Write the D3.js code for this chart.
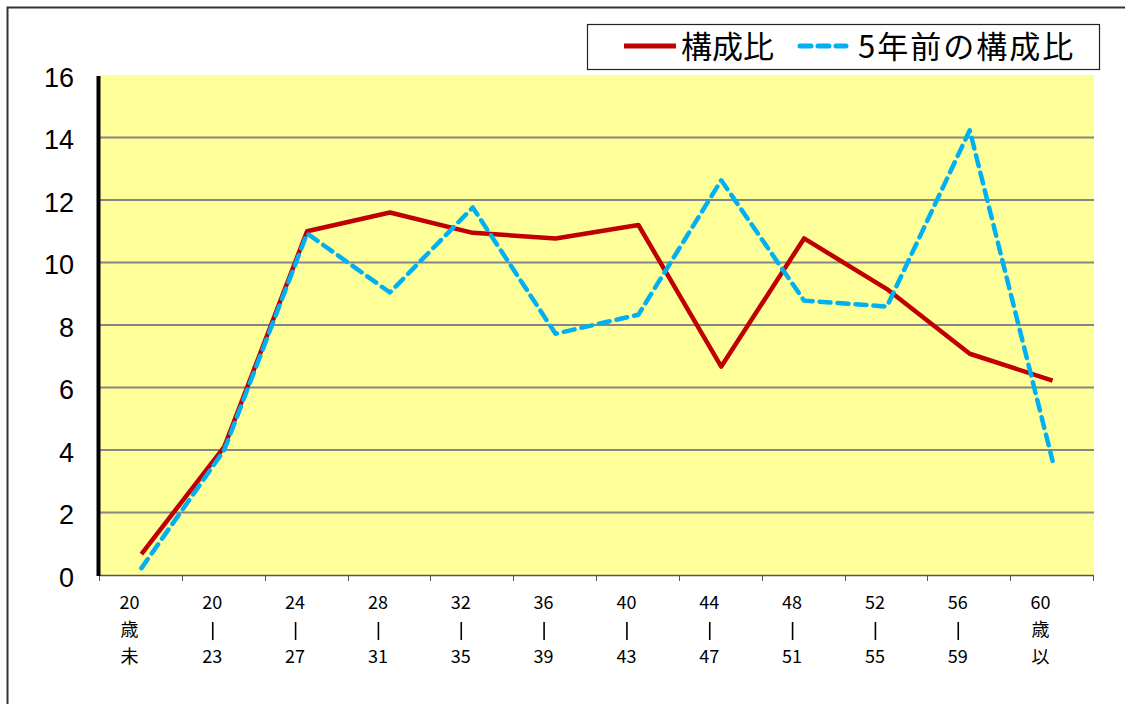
<!DOCTYPE html>
<html>
<head>
<meta charset="utf-8">
<script src="https://cdn.jsdelivr.net/npm/d3@7"></script>
<style>
  body { margin: 0; background: #fff; }
  svg { display: block; }
</style>
</head>
<body>
<div id="chart"></div>
<script>
// age groups, one entry per line of the label ('|' is drawn as a short rule)
const categories = [
  ['20', '歳', '未'], ['20', '|', '23'], ['24', '|', '27'], ['28', '|', '31'],
  ['32', '|', '35'], ['36', '|', '39'], ['40', '|', '43'], ['44', '|', '47'],
  ['48', '|', '51'], ['52', '|', '55'], ['56', '|', '59'], ['60', '歳', '以']
]
const current = [0.67, 4.1, 11.0, 11.6, 10.95, 10.77, 11.2, 6.67, 10.77, 9.15, 7.08, 6.22]
const fiveYearsAgo = [0.22, 4.0, 10.93, 9.04, 11.76, 7.72, 8.33, 12.63, 8.78, 8.59, 14.23, 3.65]
const yTicks = [0, 2, 4, 6, 8, 10, 12, 14, 16]
const seriesNames = ['構成比', '5年前の構成比']

const width = 1125, height = 704
const plot = { left: 100, right: 1094, top: 75, bottom: 575 }

const svg = d3.select('#chart').append('svg')
  .attr('width', width)
  .attr('height', height)

// outer frame, runs off the right and bottom edges
svg.append('rect')
  .attr('x', 7.5).attr('y', 7.5)
  .attr('width', 1140).attr('height', 720)
  .attr('fill', '#fff')
  .attr('stroke', '#333')
  .attr('stroke-width', 2)

const x = d3.scaleBand()
  .domain(d3.range(categories.length))
  .range([plot.left, plot.right])

const y = d3.scaleLinear()
  .domain([0, 16])
  .range([plot.bottom, plot.top])

// plot background
svg.append('rect')
  .attr('x', plot.left).attr('y', plot.top)
  .attr('width', plot.right - plot.left)
  .attr('height', plot.bottom - plot.top)
  .attr('fill', '#ffff99')

// grid lines
svg.append('g')
  .selectAll('line')
  .data(yTicks.filter(d => d > 0 && d < 16))
  .enter()
  .append('line')
  .attr('x1', plot.left).attr('x2', plot.right)
  .attr('y1', d => y(d)).attr('y2', d => y(d))
  .attr('stroke', '#868686')
  .attr('stroke-width', 2)

// y axis labels
svg.append('g')
  .selectAll('text')
  .data(yTicks)
  .enter()
  .append('text')
  .attr('x', 74)
  .attr('y', d => y(d) + 2)
  .attr('dy', '0.36em')
  .attr('text-anchor', 'end')
  .style('font-family', '"Liberation Sans", Arial, sans-serif')
  .style('font-size', '27px')
  .text(d => d)

// x axis with ticks at band edges
const xAxis = svg.append('g')
xAxis.append('line')
  .attr('x1', plot.left - 1).attr('x2', plot.right)
  .attr('y1', plot.bottom + 0.5).attr('y2', plot.bottom + 0.5)
  .attr('stroke', '#555')
  .attr('stroke-width', 1.5)
xAxis.selectAll('.tick')
  .data(d3.range(categories.length + 1))
  .enter()
  .append('line')
  .attr('class', 'tick')
  .attr('x1', i => Math.round(plot.left + i * x.step()) - 0.5)
  .attr('x2', i => Math.round(plot.left + i * x.step()) - 0.5)
  .attr('y1', plot.bottom).attr('y2', plot.bottom + 6)
  .attr('stroke', '#555')

// category labels, three stacked lines each
const labelX = i => x(i) + x.bandwidth() / 2 - 12
const labels = xAxis.selectAll('.cat')
  .data(categories)
  .enter()
  .append('g')
  .attr('class', 'cat')
  .attr('transform', (d, i) => `translate(${labelX(i)}, 0)`)
labels.selectAll('text')
  .data(d => d.map((t, j) => ({ t, j })).filter(e => e.t !== '|'))
  .enter()
  .append('text')
  .attr('text-anchor', 'middle')
  .attr('y', e => 609 + e.j * 27)
  .style('font-family', '"Noto Sans CJK JP", "Noto Sans", sans-serif')
  .style('font-size', '18px')
  .text(e => e.t)
labels.selectAll('line')
  .data(d => d.map((t, j) => ({ t, j })).filter(e => e.t === '|'))
  .enter()
  .append('line')
  .attr('x1', 0.5).attr('x2', 0.5)
  .attr('y1', e => 609 + e.j * 27 - 14)
  .attr('y2', e => 609 + e.j * 27 + 4)
  .attr('stroke', '#000')
  .attr('stroke-width', 1.6)

// black left axis
svg.append('line')
  .attr('x1', plot.left - 1.5).attr('x2', plot.left - 1.5)
  .attr('y1', plot.top + 1).attr('y2', plot.bottom + 1)
  .attr('stroke', '#000')
  .attr('stroke-width', 4)

const line = d3.line()
  .x((d, i) => x(i) + x.bandwidth() / 2)
  .y(d => y(d))

svg.append('path')
  .datum(current)
  .attr('d', line)
  .attr('fill', 'none')
  .attr('stroke', '#c00000')
  .attr('stroke-width', 4.5)
  .attr('stroke-linejoin', 'round')

svg.append('path')
  .datum(fiveYearsAgo)
  .attr('d', line)
  .attr('fill', 'none')
  .attr('stroke', '#00b0f0')
  .attr('stroke-width', 4.5)
  .attr('stroke-dasharray', '11,7')
  .attr('stroke-linecap', 'round')
  .attr('stroke-linejoin', 'round')

// legend
const legend = svg.append('g')
legend.append('rect')
  .attr('x', 587.5).attr('y', 24.5)
  .attr('width', 512).attr('height', 45)
  .attr('fill', '#fff')
  .attr('stroke', '#222')
  .attr('stroke-width', 1.2)
legend.append('line')
  .attr('x1', 624).attr('x2', 676).attr('y1', 46).attr('y2', 46)
  .attr('stroke', '#c00000').attr('stroke-width', 5)
legend.append('line')
  .attr('x1', 800).attr('x2', 846).attr('y1', 46).attr('y2', 46)
  .attr('stroke', '#00b0f0').attr('stroke-width', 5)
  .attr('stroke-dasharray', '11,7')
  .attr('stroke-linecap', 'round')
legend.selectAll('text')
  .data(seriesNames)
  .enter()
  .append('text')
  .attr('x', (d, i) => i === 0 ? 681 : 858)
  .attr('y', 47)
  .attr('dy', '0.36em')
  .style('font-family', '"Noto Sans CJK JP", sans-serif')
  .style('font-size', '31px')
  .style('letter-spacing', (d, i) => i === 0 ? null : '2px')
  .text(d => d)
</script>
</body>
</html>
